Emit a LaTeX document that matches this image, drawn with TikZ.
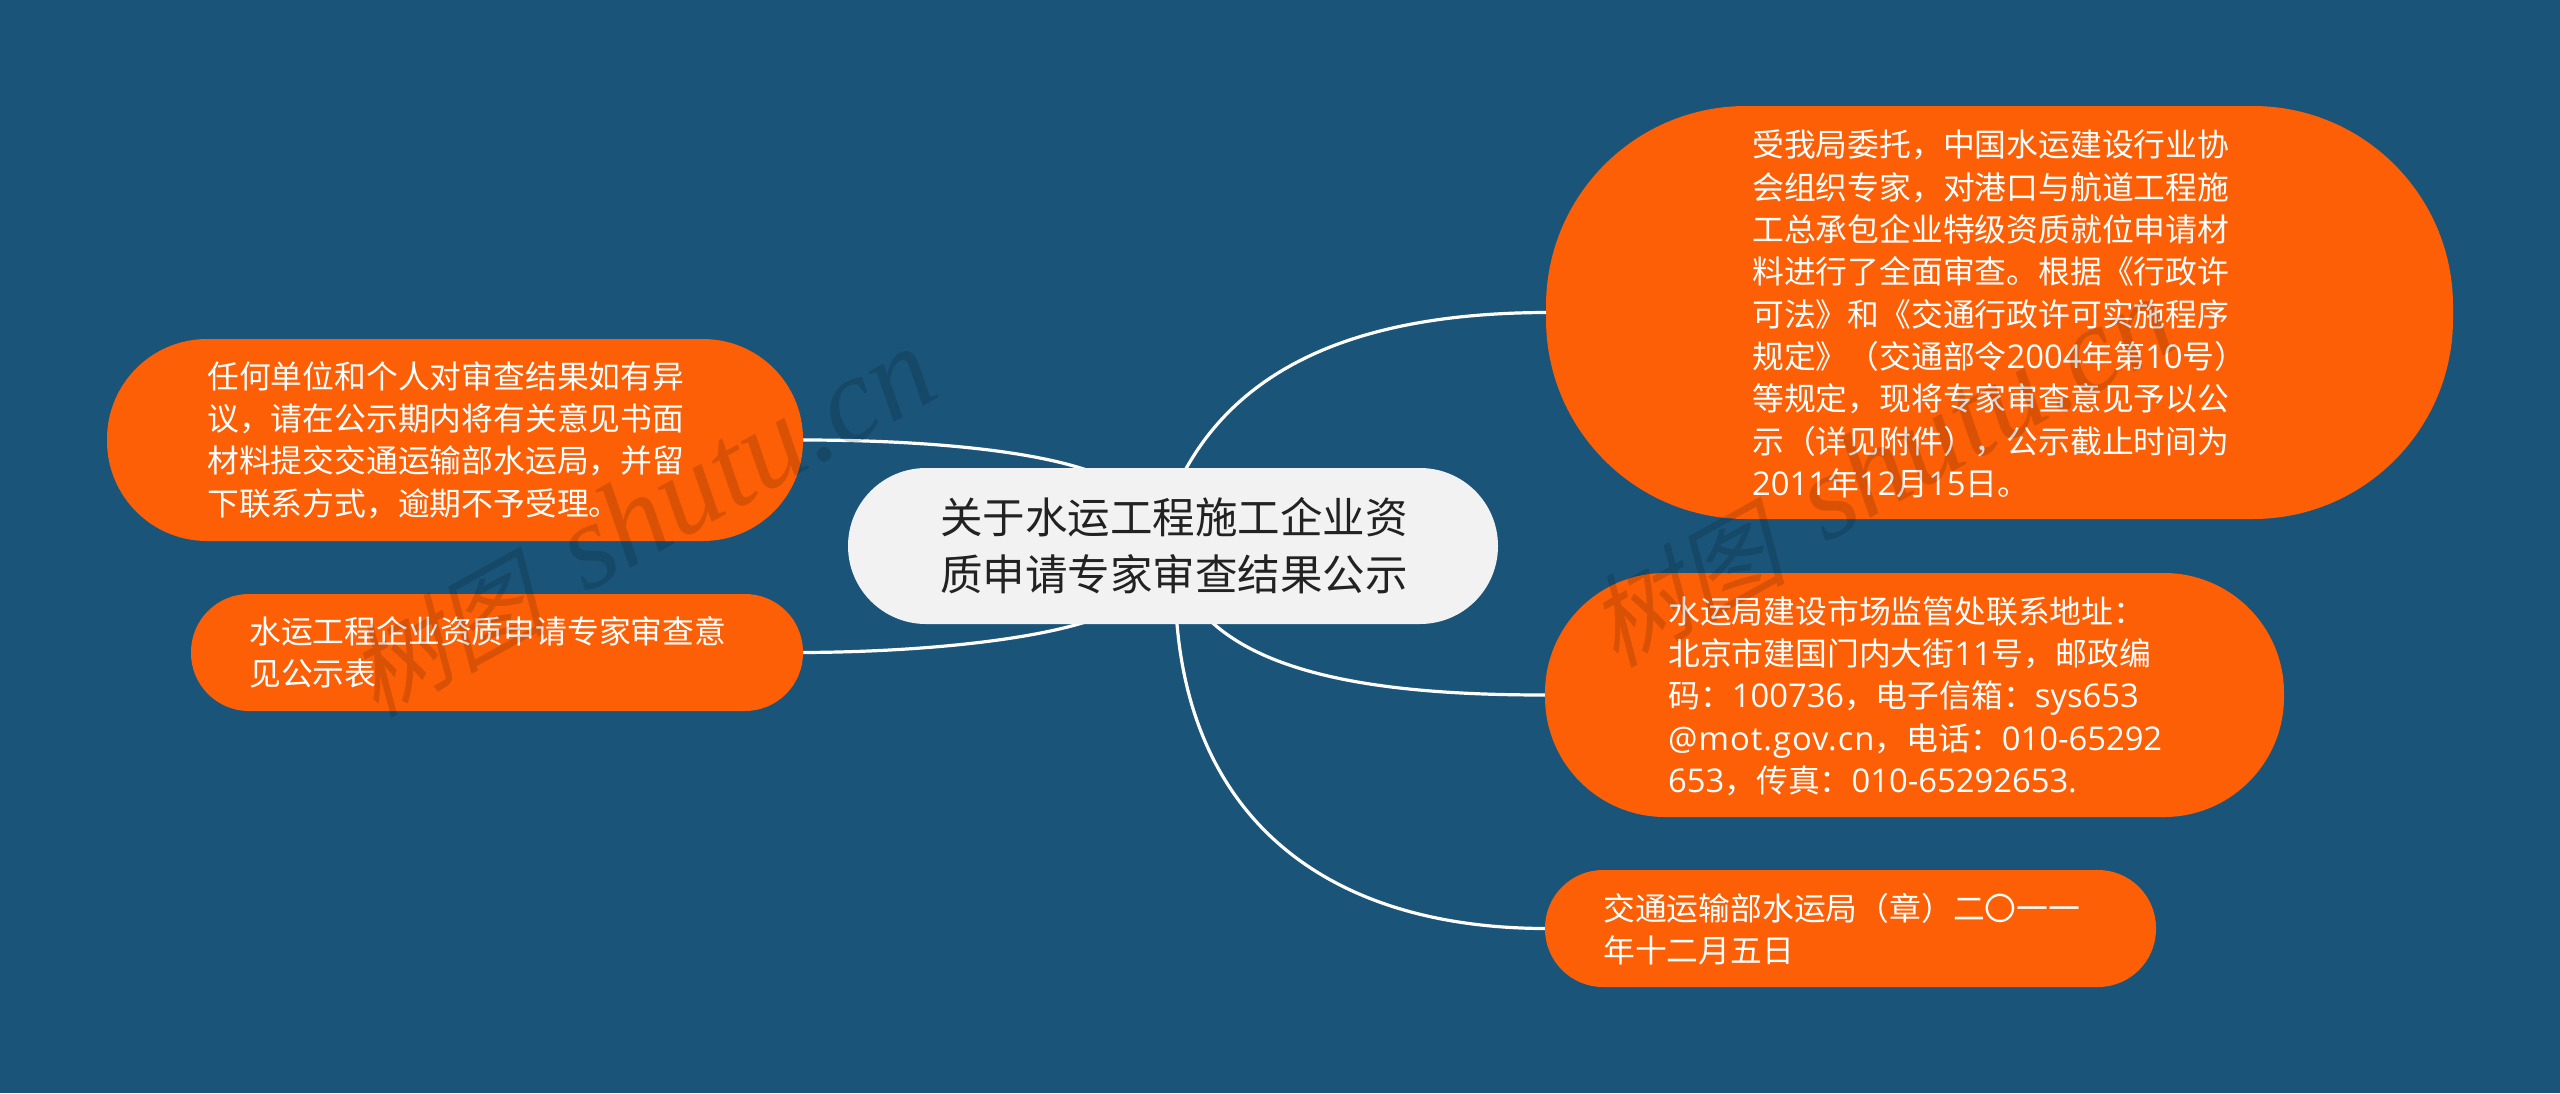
\documentclass[tikz,border=0pt]{standalone}
\usepackage{fontspec}
\usetikzlibrary{backgrounds}
\setmainfont{Noto Sans CJK SC}
\newfontfamily\la[Scale=1.03]{Open Sans}
\newfontfamily\wmcjk[FakeSlant=0.25]{Noto Sans CJK SC}
\newfontfamily\wmlat{Liberation Serif}[ItalicFont=* Italic]
\newcommand\wmtext{\raisebox{-8pt}{\fontsize{100}{100}\selectfont\wmcjk 树图}\hspace{14pt}\fontsize{122}{122}\selectfont\wmlat\itshape\ shutu.cn}
\definecolor{bgblue}{HTML}{1A5479}
\definecolor{pillorange}{HTML}{FC5F05}
\definecolor{rootfill}{HTML}{F2F2F2}
\definecolor{roottext}{HTML}{222222}
\tikzset{
  pill/.style={rectangle,fill=pillorange,inner sep=0pt,outer sep=0pt},
  rootpill/.style={rectangle,fill=rootfill,inner sep=0pt,outer sep=0pt},
  pilltext/.style={inner sep=0pt,anchor=west,align=left,text=white,font=\fontsize{31.8}{42.3}\selectfont},
  roottextstyle/.style={inner sep=0pt,anchor=west,align=left,text=roottext,font=\fontsize{42.5}{57}\selectfont},
  link/.style={draw=white,line width=3.2pt},
  wm/.style={inner sep=0pt,anchor=base west,rotate=29,text=black,text opacity=0.14},
}
\begin{document}
\begin{tikzpicture}[x=1pt,y=-1pt]
\useasboundingbox (0,0) rectangle (2560,1093);
% nodes
\node[rootpill,minimum width=650pt,minimum height=156pt,rounded corners=78pt] (c) at (1173,546) {};
\node[pill,minimum width=696pt,minimum height=202pt,rounded corners=100pt] (l1) at (455,440) {};
\node[pill,minimum width=612pt,minimum height=117pt,rounded corners=58pt] (l2) at (497,652.5) {};
\node[pill,minimum width=907pt,minimum height=413pt,rounded corners=200pt] (r1) at (1999.5,312.5) {};
\node[pill,minimum width=739pt,minimum height=244pt,rounded corners=120pt] (r2) at (1914.5,695) {};
\node[pill,minimum width=611pt,minimum height=117pt,rounded corners=58pt] (r3) at (1850.5,928.5) {};
% hub ends hidden behind the root
\coordinate (hl1) at (1100,475);
\coordinate (hl2) at (1100,617);
\coordinate (hr1) at (1180,480);
\coordinate (hr2) at (1200,610);
\coordinate (hr3) at (1176,610);
\begin{scope}[on background layer]
\fill[bgblue] (0,0) rectangle (2560,1093);
\draw[link] (l1.east) .. controls (920,440) and (1040,450) .. (hl1);
\draw[link] (l2.east) .. controls (920,652) and (1040,640) .. (hl2);
\draw[link] (r1.west) .. controls (1370,313) and (1240,360) .. (hr1);
\draw[link] (r2.west) .. controls (1400,695) and (1260,680) .. (hr2);
\draw[link] (r3.west) .. controls (1330,928) and (1188,822) .. (hr3);
\end{scope}
% texts
\node[roottextstyle] (ct) at (940,546) {关于水运工程施工企业资\\质申请专家审查结果公示};
\node[pilltext] (l1t) at (207,440) {任何单位和个人对审查结果如有异\\议，请在公示期内将有关意见书面\\材料提交交通运输部水运局，并留\\下联系方式，逾期不予受理。};
\node[pilltext] (l2t) at (249,652) {水运工程企业资质申请专家审查意\\见公示表};
\node[pilltext] (r1t) at (1752,314) {受我局委托，中国水运建设行业协\\会组织专家，对港口与航道工程施\\工总承包企业特级资质就位申请材\\料进行了全面审查。根据《行政许\\可法》和《交通行政许可实施程序\\规定》（交通部令{\la 2004}年第{\la 10}号）\\等规定，现将专家审查意见予以公\\示（详见附件），公示截止时间为\\{\la 2011}年{\la 12}月{\la 15}日。};
\node[pilltext] (r2t) at (1668,696) {水运局建设市场监管处联系地址：\\北京市建国门内大街{\la 11}号，邮政编\\码：{\la 100736}，电子信箱：{\la sys653}\\{\la\addfontfeature{LetterSpace=3}@mot.gov.cn}，电话：{\la 010-65292}\\{\la 653}，传真：{\la 010-65292653.}};
\node[pilltext] (r3t) at (1603,929) {交通运输部水运局（章）二〇一一\\年十二月五日};
% watermarks
\node[wm] (w1) at (371,712) {\wmtext};
\node[wm] (w2) at (1611,662) {\wmtext};
\end{tikzpicture}
\end{document}
